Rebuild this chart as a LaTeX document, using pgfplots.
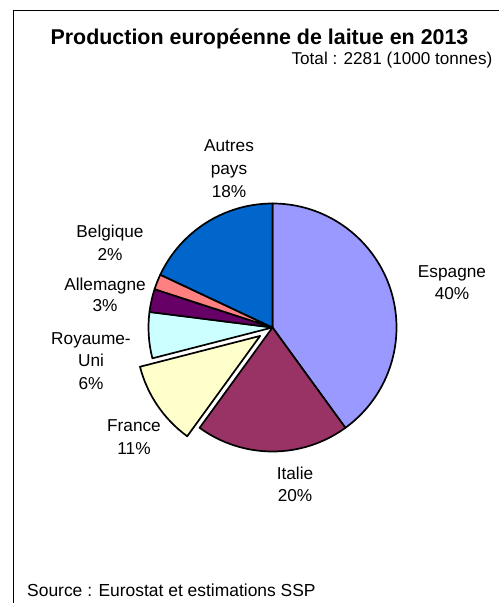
\documentclass[border=0pt]{standalone}
\usepackage{fontspec}
\setmainfont{Liberation Sans}
\usepackage{pgfplots}
\usepackage{pgfplotstable}
\pgfplotsset{compat=1.18}

\definecolor{c0}{HTML}{9999FF}
\definecolor{c1}{HTML}{993366}
\definecolor{c2}{HTML}{FFFFCC}
\definecolor{c3}{HTML}{CCFFFF}
\definecolor{c4}{HTML}{660066}
\definecolor{c5}{HTML}{FF8080}
\definecolor{c6}{HTML}{0066CC}

% part (%) and explode offset (bp)
\pgfplotstableread{
pays pct explode
Espagne 40 0
Italie 20 0
France 11 15
RoyaumeUni 6 0
Allemagne 3 0
Belgique 2 0
Autres 18 0
}\piedata

\pgfplotstablegetrowsof{\piedata}
\pgfmathtruncatemacro\Nmax{\pgfplotsretval-1}
\xdef\cum{90}
\foreach \i in {0,...,\Nmax}{%
  \pgfplotstablegetelem{\i}{pct}\of\piedata
  \let\pp\pgfplotsretval
  \pgfplotstablegetelem{\i}{explode}\of\piedata
  \let\pex\pgfplotsretval
  \pgfmathsetmacro\pend{\cum-3.6*\pp}%
  \pgfmathsetmacro\pmid{(\cum+\pend)/2}%
  \expandafter\xdef\csname sa\i\endcsname{\cum}%
  \expandafter\xdef\csname ea\i\endcsname{\pend}%
  \expandafter\xdef\csname mid\i\endcsname{\pmid}%
  \expandafter\xdef\csname ex\i\endcsname{\pex}%
  \xdef\cum{\pend}%
}

\newcommand\lab[3]{\node[anchor=base,font=\fontsize{17.3}{20}\selectfont] at (axis cs:#1,-#2) {#3};}

\begin{document}
\begin{tikzpicture}
\useasboundingbox (0,0) rectangle (499bp,603bp);
\begin{axis}[
  at={(0,0)}, anchor=south west,
  width=499bp, height=603bp, scale only axis,
  xmin=0, xmax=499, ymin=-603, ymax=0,
  hide axis, clip=false]
  % frame
  \draw[line width=1.6bp] (axis cs:13.5,-603) -- (axis cs:13.5,-10.5) -- (axis cs:499,-10.5);
  % slices
  \pgfplotsinvokeforeach{0,...,6}{
    \filldraw[fill=c#1, draw=black, line width=1.7bp, line join=round,
      shift={(\csname mid#1\endcsname:\csname ex#1\endcsname bp)}]
      (axis cs:272.5,-327.5) -- ++(\csname sa#1\endcsname:124bp)
      arc[start angle=\csname sa#1\endcsname, end angle=\csname ea#1\endcsname, radius=124bp] -- cycle;
  }
  % title
  \node[anchor=base,font=\fontsize{21.5}{25}\selectfont\bfseries] at (axis cs:259.5,-44.3) {Production européenne de laitue en 2013};
  \node[anchor=base east,font=\fontsize{17.2}{20}\selectfont,inner sep=0pt] at (axis cs:492.5,-65) {Total : 2281 (1000 tonnes)};
  \node[anchor=base west,font=\fontsize{17.5}{20}\selectfont,inner sep=0pt] at (axis cs:27,-596) {Source : Eurostat et estimations SSP};
  % labels
  \lab{452}{278}{Espagne}
  \lab{452}{300}{40\%}
  \lab{295}{480}{Italie}
  \lab{295}{502}{20\%}
  \lab{134}{432}{France}
  \lab{134}{455}{11\%}
  \lab{91}{345}{Royaume-}
  \lab{91}{367}{Uni}
  \lab{91}{390}{6\%}
  \lab{105}{291}{Allemagne}
  \lab{105}{312}{3\%}
  \lab{110}{238}{Belgique}
  \lab{110}{261}{2\%}
  \lab{229}{152}{Autres}
  \lab{229}{175}{pays}
  \lab{229}{198}{18\%}
\end{axis}
\end{tikzpicture}
\end{document}
